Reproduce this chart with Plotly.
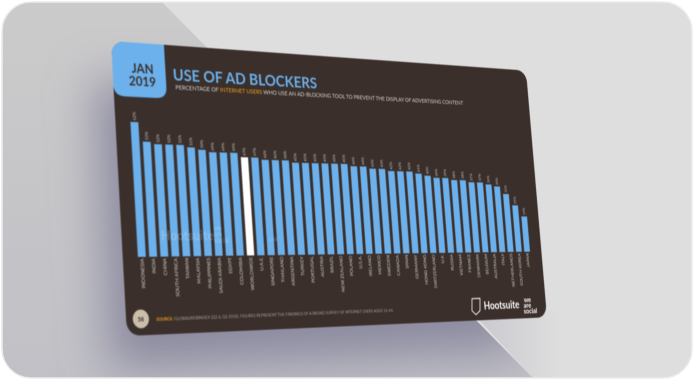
import numpy as np
import plotly.graph_objects as go

categories = ["INDONESIA","INDIA","CHINA","SOUTH AFRICA","TAIWAN","MALAYSIA","PHILIPPINES","SAUDI ARABIA","EGYPT","COLOMBIA",
 "WORLDWIDE","U.A.E.","SINGAPORE","THAILAND","ARGENTINA","TURKEY","PORTUGAL","AUSTRIA","BRAZIL","NEW ZEALAND","POLAND",
 "U.S.A.","IRELAND","MEXICO","SWEDEN","CANADA","SPAIN","GERMANY","HONG KONG","SWITZERLAND","U.K.","RUSSIA","VIETNAM",
 "FRANCE","DENMARK","BELGIUM","AUSTRALIA","ITALY","NETHERLANDS","SOUTH KOREA","JAPAN"]
values = [62,53,52,52,52,51,50,49,49,49,47,47,46,46,46,45,45,45,45,45,45,44,44,43,43,42,42,42,41,40,39,39,38,38,37,37,36,35,31,25,19]
highlight = "WORLDWIDE"

W, H = 1000, 540
corners = [(111,41),(526,70.6),(547,317.3),(127,336)]
src = [(0,0),(W,0),(W,H),(0,H)]
A = []; b = []
for (x,y),(u,v) in zip(src,corners):
    A.append([x,y,1,0,0,0,-u*x,-u*y]); b.append(u)
    A.append([0,0,0,x,y,1,-v*x,-v*y]); b.append(v)
h = np.linalg.solve(np.array(A,float),np.array(b,float))
Hm = np.array([[h[0],h[1],h[2]],[h[3],h[4],h[5]],[h[6],h[7],1.0]])
Hi = np.linalg.inv(Hm)
def flat(tx,ty):
    p = Hi @ np.array([tx,ty,1.0]); return p[0]/p[2], p[1]/p[2]

BG="#3a2f2b"; BLUE="#6cb1ec"; ORANGE="#f0a11e"; TXT="#d6d3cf"
gap=0.3
n=len(values)
xa,ya=flat(138,257); xb,yb=flat(530,252)
slot=(xb-xa)/(n-gap)
l=xa-slot*gap/2; rr=xb+slot*gap/2
ybase=(ya+yb)/2
_,ytop=flat(131,121.7)
pxper=(ybase-ytop)/values[0]
ymax=72
t=ybase-pxper*ymax
mr=W-rr; mb=H-ybase
pw=W-l-mr; ph=H-t-mb
fx=lambda px:(px-l)/pw
fy=lambda py:(ybase-py)/ph
def pt(tx,ty):
    a,c=flat(tx,ty); return fx(a),fy(c)

fig=go.Figure(go.Bar(x=categories,y=values,
    marker=dict(color=["#ffffff" if c==highlight else BLUE for c in categories],line_width=0),
    text=[f"{v}%" for v in values],textposition="outside",textangle=-90,cliponaxis=False,
    textfont=dict(family="Lato",size=16,color=TXT),hoverinfo="skip"))

ann=[]
def T(tx,ty,text,size,color=TXT,family="Lato",anchor="left",**k):
    a,c=pt(tx,ty)
    ann.append(dict(x=a,y=c,xref="paper",yref="paper",text=text,showarrow=False,xanchor=anchor,yanchor="middle",
                    font=dict(family=family,size=size,color=color),**k))
T(142.5,68,"<b>JAN</b>",24,BG,anchor="center")
T(142.5,81,"<b>2019</b>",24,BG,anchor="center")
T(172,74,"<b>USE OF AD BLOCKERS</b>",31,BLUE)
T(174,86.5,f'PERCENTAGE OF <span style="color:{ORANGE}">INTERNET USERS</span> WHO USE AN AD-BLOCKING TOOL TO PREVENT THE DISPLAY OF ADVERTISING CONTENT',11.8,TXT)
T(155,319.5,f'<b><span style="color:{ORANGE}">SOURCE:</span></b> GLOBALWEBINDEX (Q2 &amp; Q3 2018). FIGURES REPRESENT THE FINDINGS OF A BROAD SURVEY OF INTERNET USERS AGED 16-64.',8.3,"#a9a29c")
T(141,319.3,"<b>58</b>",11,BG,anchor="center")
T(483,306,"<b>Hootsuite</b>",22,"#ffffff")
T(523,300,"<b>we</b>",15,"#ffffff")
T(523,305.5,"<b>are</b>",15,"#ffffff")
T(523,311,"<b>social</b>",15,"#ffffff")
# faint watermark over the bars
WM="rgba(255,255,255,0.2)"
T(160,235,"<b>Hootsuite</b>",25,WM)
T(213,228,"<b>we</b>",13,WM)
T(213,234,"<b>are</b>",13,WM)
T(213,240,"<b>social</b>",13,WM)
T(268,239,"<b>LAB</b>",10,WM)

# tab, page circle and logo outline
xt,_=flat(164,45); _,yt=flat(140,97)
r=22
def P(x,y): return f"{fx(x)},{fy(y)}"
tab=f"M{P(0,-5)} L{P(xt,-5)} L{P(xt,yt-r)} Q{P(xt,yt)} {P(xt-r,yt)} L{P(r,yt)} Q{P(0,yt)} {P(0,yt-r)} Z"
cx0,cy0=pt(132.4,310.2); cx1,cy1=pt(149.6,328.3)
s0=[pt(472,299),pt(480,298.6),pt(480,311),pt(476,315),pt(472,311)]
shield="M"+" L".join(f"{a},{c}" for a,c in s0)+" Z"
shapes=[dict(type="path",xref="paper",yref="paper",path=tab,fillcolor=BLUE,line_width=0,layer="below"),
        dict(type="circle",xref="paper",yref="paper",x0=cx0,x1=cx1,y0=cy0,y1=cy1,fillcolor="#cbbfac",line_width=0),
        dict(type="path",xref="paper",yref="paper",path=shield,line=dict(color="#ffffff",width=2),fillcolor="rgba(0,0,0,0)")]

fig.update_layout(width=W,height=H,margin=dict(l=l,r=mr,t=t,b=mb,pad=0,autoexpand=False),
    paper_bgcolor=BG,plot_bgcolor=BG,bargap=gap,showlegend=False,annotations=ann,shapes=shapes,
    xaxis=dict(type="category",range=[-0.5,n-0.5],tickmode="array",tickvals=categories,ticktext=categories,tickangle=-90,
               ticks="",ticklen=0,showline=False,showgrid=False,zeroline=False,automargin=False,
               tickfont=dict(family="Lato",size=10,color=TXT)),
    yaxis=dict(range=[0,ymax],visible=False,showgrid=False,zeroline=False,automargin=False))

m=",".join(f"{v:.10g}" for v in [Hm[0,0],Hm[1,0],0,Hm[2,0],Hm[0,1],Hm[1,1],0,Hm[2,1],0,0,1,0,Hm[0,2],Hm[1,2],0,Hm[2,2]])
card="M%g %g L%g %g L%g %g L%g %g Z"%(corners[0]+corners[1]+corners[2]+corners[3])
bg=f'''<svg xmlns="http://www.w3.org/2000/svg" width="694" height="380" style="position:absolute;left:0;top:0">
<defs>
<linearGradient id="wg" x1="0" y1="0" x2="0" y2="1"><stop offset="0" stop-color="#cbcbcb"/><stop offset="1" stop-color="#c0c0c6"/></linearGradient>
<linearGradient id="rg" x1="0" y1="0" x2="1" y2="0"><stop offset="0" stop-color="#c8c8ce"/><stop offset="1" stop-color="#dedede"/></linearGradient>
<filter id="b1" x="-30%" y="-30%" width="160%" height="160%"><feGaussianBlur stdDeviation="24"/></filter>
<clipPath id="page"><rect x="2" y="2" width="690" height="376" rx="29"/></clipPath>
<clipPath id="wedge"><polygon points="0,0 160,0 535,380 0,380"/></clipPath>
</defs>
<g clip-path="url(#page)">
<rect width="694" height="380" fill="#dedede"/>
<polygon points="470,310 535,380 560,380 560,310" fill="url(#rg)"/>
<g clip-path="url(#wedge)">
<rect width="694" height="380" fill="url(#wg)"/>
<path d="{card}" transform="translate(-14,40) scale(0.98)" fill="#8b899f" filter="url(#b1)"/>
</g></g>
<rect x="2" y="2" width="690" height="376" rx="29" fill="none" stroke="#ececec" stroke-width="1.5"/>
</svg>'''.replace("\n","")
js=f"""
var gd=document.getElementById('{{plot_id}}');
document.body.style.margin='0';document.body.style.background='#ffffff';document.body.style.overflow='hidden';
var d=document.createElement('div');d.innerHTML={bg!r};document.body.insertBefore(d,document.body.firstChild);
gd.style.position='absolute';gd.style.left='0';gd.style.top='0';gd.style.transformOrigin='0 0';
gd.style.transform='matrix3d({m})';gd.style.borderRadius='26px';gd.style.overflow='hidden';gd.style.filter='blur(1.1px)';
"""
fig.write_html("out.html",post_script=js,config=dict(displayModeBar=False,staticPlot=True))
